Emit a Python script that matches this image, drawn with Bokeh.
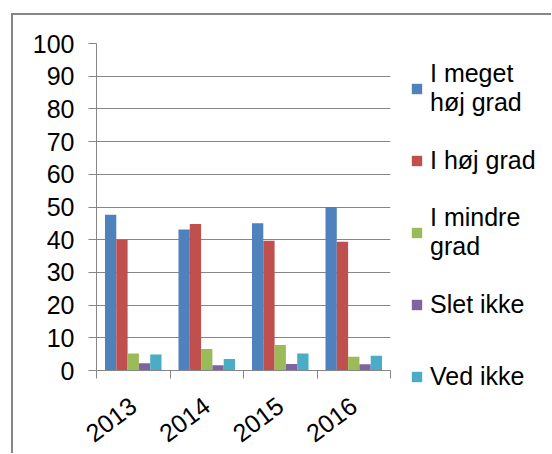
import math
from bokeh.plotting import figure
from bokeh.layouts import row, column
from bokeh.models import (ColumnDataSource, Range1d, FixedTicker, Legend, LegendItem, Spacer)
from bokeh.transform import dodge
from bokeh.embed import file_html
from bokeh.resources import INLINE

years = ["2013", "2014", "2015", "2016"]
series_names = ["I meget\nhøj grad", "I høj grad", "I mindre\ngrad", "Slet ikke", "Ved ikke"]
meget_hoj = [47.6, 43.1, 45.0, 50.0]
hoj = [40.0, 44.8, 39.7, 39.4]
mindre = [5.2, 6.6, 7.8, 4.2]
slet_ikke = [2.2, 1.6, 2.0, 1.9]
ved_ikke = [4.9, 3.5, 5.2, 4.5]
y_ticks = [0, 10, 20, 30, 40, 50, 60, 70, 80, 90, 100]

colors = ["#4F81BD", "#C0504D", "#9BBB59", "#8064A2", "#4BACC6"]
values = [meget_hoj, hoj, mindre, slet_ikke, ved_ikke]

FONT = "Liberation Sans"
GRAY = "#868686"

centers = [i + 0.5 for i in range(len(years))]
data = dict(xc=centers)
keys = ["s0", "s1", "s2", "s3", "s4"]
for k, v in zip(keys, values):
    data[k] = v
src = ColumnDataSource(data)

H = 438
p = figure(width=382, height=H, output_backend="svg", toolbar_location=None,
           x_range=Range1d(0, len(years)), y_range=Range1d(0, 100),
           min_border_left=83, min_border_right=5, min_border_top=28, min_border_bottom=82)
p.outline_line_color = None
p.background_fill_color = "white"
p.border_fill_color = "white"

bw = 1 / 6.5
for i, (k, c) in enumerate(zip(keys, colors)):
    p.vbar(x=dodge("xc", (i - 2) * bw, range=p.x_range), top=k, width=bw,
           source=src, fill_color=c, line_color=None)

# y axis
p.yaxis.ticker = FixedTicker(ticks=y_ticks)
p.yaxis.axis_line_color = GRAY
p.yaxis.major_tick_line_color = GRAY
p.yaxis.major_tick_out = 8
p.yaxis.major_tick_in = 0
p.yaxis.minor_tick_line_color = None
p.yaxis.major_label_text_font = FONT
p.yaxis.major_label_text_font_size = "25px"
p.yaxis.major_label_text_color = "black"
p.yaxis.major_label_standoff = 14
p.ygrid.ticker = FixedTicker(ticks=y_ticks)
p.ygrid.grid_line_color = GRAY
p.ygrid.grid_line_width = 1

# x axis
p.xaxis.ticker = FixedTicker(ticks=centers, minor_ticks=list(range(len(years) + 1)))
p.xaxis.major_label_overrides = {c: y for c, y in zip(centers, years)}
p.xaxis.axis_line_color = GRAY
p.xaxis.major_tick_line_color = None
p.xaxis.major_tick_out = 0
p.xaxis.major_tick_in = 0
p.xaxis.minor_tick_line_color = GRAY
p.xaxis.minor_tick_out = 8
p.xaxis.minor_tick_in = 0
p.xaxis.major_label_orientation = math.radians(37)
p.xaxis.major_label_text_font = FONT
p.xaxis.major_label_text_font_size = "25px"
p.xaxis.major_label_text_color = "black"
p.xaxis.major_label_standoff = 24
p.xgrid.visible = False

# legend canvas: legend sits in a side panel, so it is never clipped by a frame
lp = figure(width=156, height=H, output_backend="svg", toolbar_location=None,
            x_range=Range1d(0, len(years)), y_range=Range1d(-2, -1),
            x_axis_location=None, y_axis_location=None,
            min_border_left=0, min_border_right=0, min_border_top=28, min_border_bottom=82)
lp.grid.visible = False
lp.outline_line_color = None
lp.background_fill_color = "white"
lp.border_fill_color = "white"
# same series, drawn outside the visible range: only their legend swatches show
leg_renderers = [lp.vbar(x="xc", top=k, width=bw, source=src, fill_color=c, line_color=None)
                 for k, c in zip(keys, colors)]

legend = Legend(items=[LegendItem(label=n, renderers=[r]) for n, r in zip(series_names, leg_renderers)],
                location="top_left", orientation="vertical",
                glyph_width=13, glyph_height=13, label_standoff=7, spacing=12,
                label_height=60, padding=0, margin=15, border_line_color=None,
                background_fill_alpha=0,
                label_text_font=FONT, label_text_font_size="25px", label_text_color="black")
lp.add_layout(legend, "left")

inner = row(p, lp)
inner.styles = {"border-left": "2px solid #878787", "border-top": "2px solid #878787"}
layout = column(Spacer(height=13), row(Spacer(width=11), inner))

open("out.html", "w").write(file_html(layout, INLINE))
